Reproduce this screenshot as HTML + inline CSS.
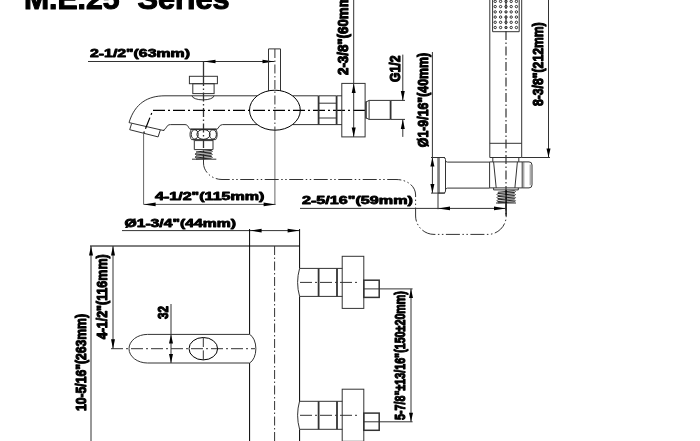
<!DOCTYPE html>
<html><head><meta charset="utf-8"><title>M.E.25 Series</title>
<style>
html,body{margin:0;padding:0;background:#fff;}
body{width:700px;height:441px;overflow:hidden;}
svg{display:block;will-change:transform;}
text{font-family:"Liberation Sans",sans-serif;font-weight:bold;fill:#000;stroke:#000;stroke-width:0.8px;stroke-linejoin:round;}
text.t{stroke-width:1.1px;}
</style></head><body>
<svg width="700" height="441" viewBox="0 0 700 441">
<rect x="0" y="0" width="700" height="441" fill="#fff"/>
<text class="t" x="24" y="8.8" font-size="30" textLength="95.5" lengthAdjust="spacingAndGlyphs">M.E.25</text>
<text class="t" x="137.5" y="8.8" font-size="30" textLength="92" lengthAdjust="spacingAndGlyphs">Series</text>
<line x1="88" y1="61.5" x2="274.5" y2="61.5" stroke="#333" stroke-width="1"/>
<polygon points="203.5,61.5 215.5,59.7 215.5,63.3" fill="#000"/>
<polygon points="274.5,61.5 262.5,59.7 262.5,63.3" fill="#000"/>
<text transform="translate(90,57) scale(1.495,1.0)" font-size="10.6">2-1/2"(63mm)</text>
<line x1="203.5" y1="61.5" x2="203.5" y2="77" stroke="#333" stroke-width="1.3"/>
<line x1="203.5" y1="77" x2="203.5" y2="160" stroke="#333" stroke-width="1.3" stroke-dasharray="9 2.5 1.5 2.5"/>
<rect x="189.4" y="76.3" width="28.0" height="7.4" rx="0" stroke="#333" stroke-width="1" fill="none"/>
<rect x="192.8" y="83.7" width="21.3" height="9.9" rx="0" stroke="#333" stroke-width="1" fill="none"/>
<path d="M192,95.7 A11,4.2 0 0 0 214,95.7" stroke="#333" stroke-width="1" fill="none"/>
<path d="M257,95.8 L165,95.8 C148,95.8 135,103 129,122.6" stroke="#333" stroke-width="1" fill="none"/>
<line x1="292.7" y1="95.8" x2="318.6" y2="95.8" stroke="#333" stroke-width="1"/>
<path d="M129,122.6 L164,130.6" stroke="#333" stroke-width="1" fill="none"/>
<path d="M131.6,123.6 L129.7,129.7 L158.1,136.9 L160.3,130" stroke="#333" stroke-width="1" fill="none"/>
<path d="M164,130.6 L164,129.5 C166.5,129.5 166,124.6 170.5,124.6 L185,124.6 C189,124.6 188,129.3 191,129.3 L216.3,129.3 C219,129.3 218.5,124.6 222.5,124.6 L257,124.6" stroke="#333" stroke-width="1" fill="none"/>
<line x1="292.7" y1="124.6" x2="318.6" y2="124.6" stroke="#333" stroke-width="1"/>
<line x1="190.5" y1="129.3" x2="216.5" y2="129.3" stroke="#333" stroke-width="1.6"/>
<path d="M365,110.4 L152.8,110.4 L143.8,133" stroke="#000" stroke-width="1.2" fill="none" stroke-dasharray="12 3 2 3"/>
<line x1="143.6" y1="133" x2="143.6" y2="204.4" stroke="#666" stroke-width="1"/>
<path d="M191.5,129.3 C189.5,132 189.5,137 191.5,139.6 L215.7,139.6 C217.7,137 217.7,132 215.7,129.3" stroke="#333" stroke-width="1" fill="none"/>
<ellipse cx="194.7" cy="134.4" rx="3.5" ry="4.7" fill="none" stroke="#222"/>
<ellipse cx="203.5" cy="134.4" rx="6.6" ry="4.9" fill="none" stroke="#222"/>
<ellipse cx="212.9" cy="134.4" rx="3.5" ry="4.7" fill="none" stroke="#222"/>
<path d="M193.2,139.6 L194.3,140.6 L194.3,149.6 M214,139.6 L213,140.6 L213,149.6 M194.3,149.6 L213,149.6 M194.3,140.6 L213,140.6" stroke="#333" stroke-width="1" fill="none"/>
<path d="M196,151.95 L211.5,150.45 Q213.0,151.2 211.5,152.1 L196,153.15 Q194.5,154.05 196,154.95 L211.5,153.45 Q213.0,154.2 211.5,155.1 L196,156.15 Q194.5,157.05 196,157.95 L211.5,156.45 Q213.0,157.2 211.5,158.1 L196,159.15 " stroke="#222" stroke-width="1" fill="none"/>
<line x1="192" y1="159.2" x2="216.3" y2="159.2" stroke="#333" stroke-width="1"/>
<path d="M268.5,90.8 L268.5,48.9 L280.5,48.9 L280.5,90.8" stroke="#333" stroke-width="1" fill="none"/>
<ellipse cx="274.9" cy="110.2" rx="25.4" ry="20" fill="none" stroke="#000"/>
<line x1="274.9" y1="49" x2="274.9" y2="131" stroke="#333" stroke-width="1" stroke-dasharray="9 2.5 1.5 2.5"/>
<line x1="274.9" y1="131" x2="274.9" y2="204.4" stroke="#666" stroke-width="1"/>
<line x1="318.6" y1="96" x2="318.6" y2="124.8" stroke="#333" stroke-width="1.8"/>
<line x1="336.6" y1="96" x2="336.6" y2="124.8" stroke="#333" stroke-width="1.8"/>
<line x1="318.6" y1="95.8" x2="336.6" y2="95.8" stroke="#333" stroke-width="1"/>
<line x1="318.6" y1="103.2" x2="336.6" y2="103.2" stroke="#333" stroke-width="1"/>
<line x1="318.6" y1="118" x2="336.6" y2="118" stroke="#333" stroke-width="1"/>
<line x1="318.6" y1="124.6" x2="336.6" y2="124.6" stroke="#333" stroke-width="1"/>
<line x1="336.6" y1="95.8" x2="342" y2="95.8" stroke="#333" stroke-width="1"/>
<line x1="336.6" y1="124.6" x2="342" y2="124.6" stroke="#333" stroke-width="1"/>
<rect x="341.8" y="83.4" width="23.3" height="53.5" rx="0" stroke="#333" stroke-width="1" fill="none"/>
<line x1="353.7" y1="0" x2="353.7" y2="136.9" stroke="#333" stroke-width="1"/>
<polygon points="353.7,83.4 351.7,92.9 355.7,92.9" fill="#000"/>
<polygon points="353.7,136.9 351.7,127.4 355.7,127.4" fill="#000"/>
<text transform="translate(348.3,75) rotate(-90) scale(1.2558,1.46)" font-size="10.6">2-3/8"(60mm)</text>
<path d="M366,102 L369.1,100.4 L390.6,100.4 M366,117.9 L369.1,119.4 L390.6,119.4 M369.1,100.4 L369.1,119.4" stroke="#333" stroke-width="1" fill="none"/>
<line x1="366" y1="101.5" x2="366" y2="118.4" stroke="#333" stroke-width="1.6"/>
<line x1="390.6" y1="100.4" x2="390.6" y2="119.4" stroke="#333" stroke-width="1.8"/>
<line x1="390.6" y1="100.4" x2="405" y2="100.4" stroke="#333" stroke-width="1"/>
<line x1="390.6" y1="119.4" x2="405" y2="119.4" stroke="#333" stroke-width="1"/>
<line x1="402.8" y1="54.6" x2="402.8" y2="100.4" stroke="#333" stroke-width="1"/>
<line x1="402.8" y1="119.4" x2="402.8" y2="136.9" stroke="#333" stroke-width="1"/>
<polygon points="402.8,100.4 400.8,90.9 404.8,90.9" fill="#000"/>
<polygon points="402.8,119.4 400.8,128.9 404.8,128.9" fill="#000"/>
<text transform="translate(400.4,82) rotate(-90) scale(1.1532,1.46)" font-size="10.6">G1/2</text>
<line x1="432.4" y1="52" x2="432.4" y2="193.1" stroke="#333" stroke-width="1"/>
<polygon points="432.4,157.5 430.4,166.5 434.4,166.5" fill="#000"/>
<polygon points="432.4,193.1 430.4,184.1 434.4,184.1" fill="#000"/>
<text transform="translate(427.5,147.2) rotate(-90) scale(1.1638,1.46)" font-size="10.6">Ø1-9/16"(40mm)</text>
<line x1="431" y1="157.5" x2="445" y2="157.5" stroke="#333" stroke-width="1"/>
<line x1="431" y1="193.1" x2="445" y2="193.1" stroke="#333" stroke-width="1"/>
<path d="M438,157.5 L443.5,157.5 Q445.5,157.5 445.5,159.5 L445.5,191.1 Q445.5,193.1 443.5,193.1 L438,193.1 Z" stroke="#333" stroke-width="1" fill="none"/>
<line x1="439.2" y1="157.5" x2="439.2" y2="193.1" stroke="#333" stroke-width="0.8"/>
<path d="M445.5,160.5 Q445.8,162.1 447.5,162.1 L489.6,162.1 M445.5,189.8 Q445.8,188.1 447.5,188.1 L489.6,188.1" stroke="#333" stroke-width="1" fill="none"/>
<path d="M489.8,0 L489.8,157.5 L521.7,157.5 L521.7,0" stroke="#333" stroke-width="1" fill="none"/>
<line x1="489.8" y1="143.3" x2="521.7" y2="143.3" stroke="#333" stroke-width="1"/>
<path d="M492.6,0 L492.6,31.7 L519.2,31.7 L519.2,0" stroke="#333" stroke-width="1" fill="none"/>
<circle cx="495.2" cy="1.4" r="1.2" fill="none" stroke="#000" stroke-width="0.8"/>
<circle cx="495.2" cy="6.6" r="1.2" fill="none" stroke="#000" stroke-width="0.8"/>
<circle cx="495.2" cy="11.9" r="1.2" fill="none" stroke="#000" stroke-width="0.8"/>
<circle cx="495.2" cy="17.1" r="1.2" fill="none" stroke="#000" stroke-width="0.8"/>
<circle cx="495.2" cy="22.3" r="1.2" fill="none" stroke="#000" stroke-width="0.8"/>
<circle cx="495.2" cy="27.5" r="1.2" fill="none" stroke="#000" stroke-width="0.8"/>
<circle cx="500.6" cy="1.4" r="1.2" fill="none" stroke="#000" stroke-width="0.8"/>
<circle cx="500.6" cy="6.6" r="1.2" fill="none" stroke="#000" stroke-width="0.8"/>
<circle cx="500.6" cy="11.9" r="1.2" fill="none" stroke="#000" stroke-width="0.8"/>
<circle cx="500.6" cy="17.1" r="1.2" fill="none" stroke="#000" stroke-width="0.8"/>
<circle cx="500.6" cy="22.3" r="1.2" fill="none" stroke="#000" stroke-width="0.8"/>
<circle cx="500.6" cy="27.5" r="1.2" fill="none" stroke="#000" stroke-width="0.8"/>
<circle cx="506" cy="1.4" r="1.2" fill="none" stroke="#000" stroke-width="0.8"/>
<circle cx="506" cy="6.6" r="1.2" fill="none" stroke="#000" stroke-width="0.8"/>
<circle cx="506" cy="11.9" r="1.2" fill="none" stroke="#000" stroke-width="0.8"/>
<circle cx="506" cy="17.1" r="1.2" fill="none" stroke="#000" stroke-width="0.8"/>
<circle cx="506" cy="22.3" r="1.2" fill="none" stroke="#000" stroke-width="0.8"/>
<circle cx="506" cy="27.5" r="1.2" fill="none" stroke="#000" stroke-width="0.8"/>
<circle cx="511.2" cy="1.4" r="1.2" fill="none" stroke="#000" stroke-width="0.8"/>
<circle cx="511.2" cy="6.6" r="1.2" fill="none" stroke="#000" stroke-width="0.8"/>
<circle cx="511.2" cy="11.9" r="1.2" fill="none" stroke="#000" stroke-width="0.8"/>
<circle cx="511.2" cy="17.1" r="1.2" fill="none" stroke="#000" stroke-width="0.8"/>
<circle cx="511.2" cy="22.3" r="1.2" fill="none" stroke="#000" stroke-width="0.8"/>
<circle cx="511.2" cy="27.5" r="1.2" fill="none" stroke="#000" stroke-width="0.8"/>
<circle cx="516.4" cy="1.4" r="1.2" fill="none" stroke="#000" stroke-width="0.8"/>
<circle cx="516.4" cy="6.6" r="1.2" fill="none" stroke="#000" stroke-width="0.8"/>
<circle cx="516.4" cy="11.9" r="1.2" fill="none" stroke="#000" stroke-width="0.8"/>
<circle cx="516.4" cy="17.1" r="1.2" fill="none" stroke="#000" stroke-width="0.8"/>
<circle cx="516.4" cy="22.3" r="1.2" fill="none" stroke="#000" stroke-width="0.8"/>
<circle cx="516.4" cy="27.5" r="1.2" fill="none" stroke="#000" stroke-width="0.8"/>
<line x1="506" y1="0" x2="506" y2="215" stroke="#333" stroke-width="1.2" stroke-dasharray="9 2.5 1.5 2.5"/>
<path d="M492.8,157.5 L492.8,161.9 M518.8,157.5 L518.8,161.9" stroke="#333" stroke-width="1" fill="none"/>
<path d="M489.6,161.9 L522.2,161.9 L522.2,187.9 L489.6,187.9 Z" stroke="#333" stroke-width="1" fill="none"/>
<path d="M522.2,161.9 L529,161.9 Q532,161.9 532,165 L532,184.8 Q532,187.9 529,187.9 L522.2,187.9" stroke="#333" stroke-width="1" fill="none"/>
<line x1="530.2" y1="164.5" x2="530.2" y2="185.3" stroke="#555" stroke-width="0.7"/>
<line x1="523.8" y1="161.9" x2="523.8" y2="187.9" stroke="#555" stroke-width="0.7"/>
<line x1="493.6" y1="161.9" x2="496.2" y2="187.9" stroke="#333" stroke-width="1"/>
<line x1="517.4" y1="161.9" x2="514.9" y2="187.9" stroke="#333" stroke-width="1"/>
<path d="M493.6,187.9 L493.6,189.9 L518.3,189.9 L518.3,187.9" stroke="#333" stroke-width="1" fill="none"/>
<path d="M497.8,192.31 L514.6,190.75 Q516.1,191.53 514.6,192.46 L497.8,193.54 Q496.3,194.47 497.8,195.41 L514.6,193.85 Q516.1,194.63 514.6,195.56 L497.8,196.64 Q496.3,197.57 497.8,198.5 L514.6,196.96 Q516.1,197.73 514.6,198.66 L497.8,199.75 Q496.3,200.68 497.8,201.61 L514.6,200.06 Q516.1,200.83 514.6,201.76 L497.8,202.84 " stroke="#222" stroke-width="1" fill="none"/>
<line x1="496" y1="203" x2="516" y2="203" stroke="#333" stroke-width="1"/>
<line x1="506.1" y1="189.9" x2="506.1" y2="216" stroke="#000" stroke-width="1.2"/>
<line x1="548.5" y1="0" x2="548.5" y2="157.5" stroke="#333" stroke-width="1"/>
<polygon points="548.5,157.5 546.5,148.5 550.5,148.5" fill="#000"/>
<line x1="521.7" y1="157.5" x2="550" y2="157.5" stroke="#333" stroke-width="1"/>
<text transform="translate(543.2,106) rotate(-90) scale(1.15,1.46)" font-size="10.6">8-3/8"(212mm)</text>
<line x1="300" y1="208.4" x2="506" y2="208.4" stroke="#333" stroke-width="1"/>
<polygon points="438,208.4 450,206.6 450,210.20000000000002" fill="#000"/>
<polygon points="506,208.4 494,206.6 494,210.20000000000002" fill="#000"/>
<line x1="438" y1="193.1" x2="438" y2="209.2" stroke="#333" stroke-width="1"/>
<text transform="translate(302,204) scale(1.5251,1.0)" font-size="10.6">2-5/16"(59mm)</text>
<line x1="143.6" y1="204.4" x2="275.6" y2="204.4" stroke="#555" stroke-width="1"/>
<polygon points="143.6,204.4 155.6,202.6 155.6,206.20000000000002" fill="#000"/>
<polygon points="275.6,204.4 263.6,202.6 263.6,206.20000000000002" fill="#000"/>
<text transform="translate(155,200) scale(1.5167,1.0)" font-size="10.6">4-1/2"(115mm)</text>
<path d="M203.5,159.5 L203.5,163 C203.5,172 212,179.5 222,179.5 L396,179.5 C407,179.5 415.6,186 415.6,195 L415.6,216 C415.6,226 424,234.4 434,234.4 L488,234.4 C498,234.4 506.2,226 506.2,216 L506.2,203" stroke="#333" stroke-width="1" fill="none" stroke-dasharray="14 2.5 1.5 2.5 1.5 2.5"/>
<text transform="translate(124.4,227) scale(1.4854,1.0)" font-size="10.6">Ø1-3/4"(44mm)</text>
<line x1="122" y1="230.6" x2="299.6" y2="230.6" stroke="#333" stroke-width="1"/>
<polygon points="249.6,230.6 261.6,228.79999999999998 261.6,232.4" fill="#000"/>
<polygon points="299.6,230.6 287.6,228.79999999999998 287.6,232.4" fill="#000"/>
<line x1="90" y1="246" x2="299.6" y2="246" stroke="#000" stroke-width="1"/>
<path d="M249.6,229 L249.6,334.4 M249.6,363 L249.6,441" stroke="#000" stroke-width="1" fill="none"/>
<path d="M299.6,229 L299.6,268.4 M299.6,296.4 L299.6,401 M299.6,429.4 L299.6,441" stroke="#000" stroke-width="1" fill="none"/>
<path d="M299.6,268.4 Q295.6,282.4 299.6,296.4 M299.6,401 Q295.6,415.2 299.6,429.4" stroke="#333" stroke-width="1" fill="none"/>
<line x1="274.6" y1="246" x2="274.6" y2="441" stroke="#333" stroke-width="1" stroke-dasharray="9 2.5 1.5 2.5"/>
<path d="M249.6,334.4 L147.5,334.4 A18.5,14.3 0 0 0 147.5,363 L249.6,363" stroke="#333" stroke-width="1" fill="none"/>
<path d="M249.6,334.4 A9,15 0 0 1 249.6,363" stroke="#333" stroke-width="1" fill="none"/>
<line x1="111" y1="348.7" x2="255" y2="348.7" stroke="#333" stroke-width="1" stroke-dasharray="12 3 2 3"/>
<ellipse cx="203.3" cy="348.7" rx="14.3" ry="11.2" fill="none" stroke="#000"/>
<path d="M203.3,337.6 L203.3,347 M203.3,350.4 L203.3,360" stroke="#333" stroke-width="1" fill="none"/>
<line x1="171" y1="304" x2="171" y2="363" stroke="#333" stroke-width="1"/>
<polygon points="171,334.4 169,343.4 173,343.4" fill="#000"/>
<polygon points="171,363 169,354 173,354" fill="#000"/>
<text transform="translate(167.8,319) rotate(-90) scale(1.1026,1.46)" font-size="10.6">32</text>
<line x1="91" y1="246" x2="91" y2="441" stroke="#333" stroke-width="1"/>
<polygon points="91,246 89,255.5 93,255.5" fill="#000"/>
<line x1="113" y1="246" x2="113" y2="348.7" stroke="#333" stroke-width="1"/>
<polygon points="113,246 111,255.5 115,255.5" fill="#000"/>
<polygon points="113,348.7 111,339.2 115,339.2" fill="#000"/>
<text transform="translate(107.3,339.3) rotate(-90) scale(1.1773,1.46)" font-size="10.6">4-1/2"(116mm)</text>
<text transform="translate(86.3,411) rotate(-90) scale(1.1469,1.46)" font-size="10.6">10-5/16"(263mm)</text>
<line x1="299.6" y1="268.4" x2="342.4" y2="268.4" stroke="#333" stroke-width="1"/>
<line x1="299.6" y1="296.4" x2="342.4" y2="296.4" stroke="#333" stroke-width="1"/>
<line x1="318.6" y1="268.4" x2="318.6" y2="296.4" stroke="#333" stroke-width="1.8"/>
<line x1="337" y1="268.4" x2="337" y2="296.4" stroke="#333" stroke-width="1.8"/>
<rect x="342.2" y="256.29999999999995" width="21.6" height="52.1" rx="0" stroke="#333" stroke-width="1" fill="none"/>
<line x1="300" y1="282.4" x2="358" y2="282.4" stroke="#333" stroke-width="1" stroke-dasharray="12 3 2 3"/>
<rect x="363.8" y="280.2" width="15.4" height="17.2" rx="0" stroke="#333" stroke-width="1.5" fill="none"/>
<line x1="363.8" y1="288.9" x2="412.6" y2="288.9" stroke="#333" stroke-width="1"/>
<line x1="299.6" y1="401.3" x2="342.4" y2="401.3" stroke="#333" stroke-width="1"/>
<line x1="299.6" y1="429.3" x2="342.4" y2="429.3" stroke="#333" stroke-width="1"/>
<line x1="318.6" y1="401.3" x2="318.6" y2="429.3" stroke="#333" stroke-width="1.8"/>
<line x1="337" y1="401.3" x2="337" y2="429.3" stroke="#333" stroke-width="1.8"/>
<rect x="342.2" y="389.2" width="21.6" height="52.1" rx="0" stroke="#333" stroke-width="1" fill="none"/>
<line x1="300" y1="415.3" x2="358" y2="415.3" stroke="#333" stroke-width="1" stroke-dasharray="12 3 2 3"/>
<rect x="363.8" y="413.1" width="15.4" height="17.2" rx="0" stroke="#333" stroke-width="1.5" fill="none"/>
<line x1="363.8" y1="421.8" x2="412.6" y2="421.8" stroke="#333" stroke-width="1"/>
<line x1="411" y1="288.9" x2="411" y2="421.8" stroke="#333" stroke-width="1"/>
<polygon points="411,288.9 409,297.9 413,297.9" fill="#000"/>
<polygon points="411,421.8 409,412.8 413,412.8" fill="#000"/>
<text transform="translate(405.3,420) rotate(-90) scale(1.0097,1.46)" font-size="10.6">5-7/8"±13/16"(150±20mm)</text>
</svg>
</body></html>
